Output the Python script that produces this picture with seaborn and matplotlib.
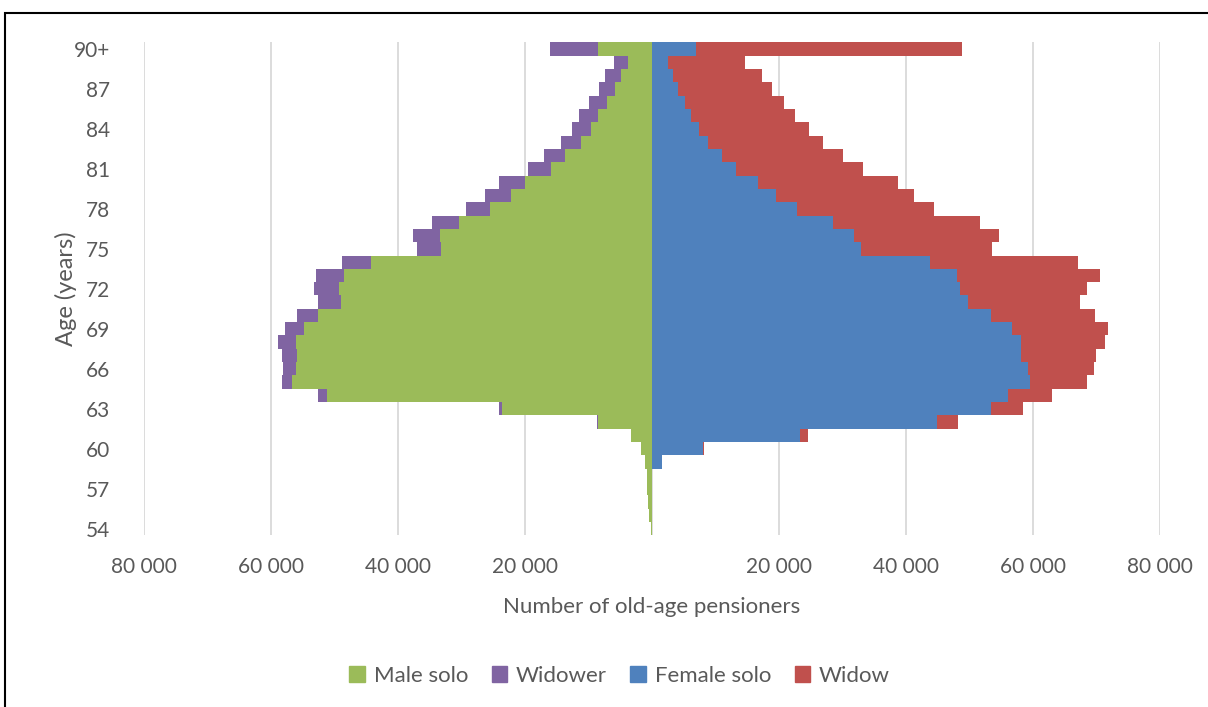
import numpy as np
import pandas as pd
import seaborn as sns
import matplotlib.pyplot as plt
from matplotlib.patches import Rectangle, Patch
from matplotlib.ticker import FuncFormatter

sns.set_theme(style="white")
plt.rcParams['font.family'] = ['Lato', 'DejaVu Sans']

# ages 54 ... 89, 90+
ages = [str(a) for a in range(54, 90)] + ["90+"]

# values in thousands (age 54 -> 90+)
male_solo = [0.1, 0.35, 0.6, 0.7, 0.8, 1.0, 1.7, 3.3, 8.5, 23.6, 51.2, 56.6, 56.1, 55.8, 56.1, 54.8,
             52.5, 49.0, 49.3, 48.4, 44.2, 33.2, 33.4, 30.4, 25.4, 22.2, 20.0, 15.9, 13.6, 11.2, 9.6,
             8.5, 7.1, 5.8, 4.8, 3.8, 8.4]
widower = [0, 0, 0, 0, 0, 0, 0, 0, 0.1, 0.45, 1.3, 1.6, 2.0, 2.4, 2.7, 2.9,
           3.3, 3.5, 3.9, 4.4, 4.5, 3.8, 4.2, 4.2, 3.9, 4.0, 4.1, 3.6, 3.4, 3.1, 3.0,
           2.9, 2.7, 2.5, 2.5, 2.1, 7.6]
female_solo = [0, 0, 0, 0, 0, 1.6, 8.1, 23.4, 45.0, 53.5, 56.1, 59.5, 59.2, 58.1, 58.1, 56.8,
               53.4, 49.8, 48.6, 48.1, 43.8, 33.0, 31.9, 28.6, 22.9, 19.5, 16.7, 13.2, 11.1, 8.8, 7.5,
               6.2, 5.2, 4.2, 3.4, 2.6, 7.0]
widow = [0, 0, 0, 0, 0, 0, 0.2, 1.2, 3.2, 4.9, 6.9, 9.0, 10.4, 11.8, 13.3, 15.0,
         16.4, 17.7, 19.9, 22.5, 23.3, 20.6, 22.8, 23.1, 21.6, 21.8, 22.1, 20.1, 19.0, 18.1, 17.3,
         16.4, 15.6, 14.7, 13.9, 12.1, 41.8]

df = pd.DataFrame({
    'age': ages,
    'male_solo': np.array(male_solo) * 1000,
    'widower': np.array(widower) * 1000,
    'female_solo': np.array(female_solo) * 1000,
    'widow': np.array(widow) * 1000,
})
df['male_total'] = -(df['male_solo'] + df['widower'])
df['male_neg'] = -df['male_solo']
df['female_total'] = df['female_solo'] + df['widow']

order = ages[::-1]
c_green, c_purple, c_blue, c_red = '#9BBB59', '#8064A2', '#4F81BD', '#C0504D'

fig = plt.figure(figsize=(12.08, 7.07), dpi=100)
ax = fig.add_axes([0.119, 0.243, 0.841, 0.697])

kw = dict(y='age', order=order, orient='h', width=1.0, saturation=1, errorbar=None, ax=ax, linewidth=0)
sns.barplot(data=df, x='male_total', color=c_purple, **kw)
sns.barplot(data=df, x='male_neg', color=c_green, **kw)
sns.barplot(data=df, x='female_total', color=c_red, **kw)
sns.barplot(data=df, x='female_solo', color=c_blue, **kw)

ax.set_xlim(-80000, 80000)
ax.set_xticks(np.arange(-80000, 80001, 20000))
ax.xaxis.set_major_formatter(FuncFormatter(lambda v, p: '' if v == 0 else f'{abs(int(v)):,}'.replace(',', ' ')))
ax.grid(axis='x', color='#d9d9d9', linewidth=1.3)
ax.set_axisbelow(True)

ytick_labels = [a for a in order if a == '90+' or (int(a) - 54) % 3 == 0]
ax.set_yticks([order.index(a) for a in ytick_labels])
ax.set_yticklabels(ytick_labels)

for s in ax.spines.values():
    s.set_visible(False)
ax.tick_params(axis='both', length=0, labelsize=15, labelcolor='#595959')
ax.tick_params(axis='x', pad=16)
ax.tick_params(axis='y', pad=24)
ax.set_xlabel('Number of old-age pensioners', fontsize=16, color='#595959', labelpad=14)
ax.set_ylabel('Age (years)', fontsize=17, color='#595959', labelpad=-2)

handles = [Patch(color=c_green, label='Male solo'), Patch(color=c_purple, label='Widower'),
           Patch(color=c_blue, label='Female solo'), Patch(color=c_red, label='Widow')]
leg = fig.legend(handles=handles, loc='center', bbox_to_anchor=(0.513, 0.044), ncol=4, frameon=False,
                 fontsize=16, handlelength=0.7, handleheight=0.7, handletextpad=0.4, columnspacing=1.05)
for t in leg.get_texts():
    t.set_color('#595959')

# outer frame
fig.add_artist(Rectangle((5 / 1208, -0.1), 1.5, (707 - 13) / 707 + 0.1, transform=fig.transFigure,
                         fill=False, edgecolor='black', linewidth=1.5))

fig.savefig('out.png', dpi=100)
